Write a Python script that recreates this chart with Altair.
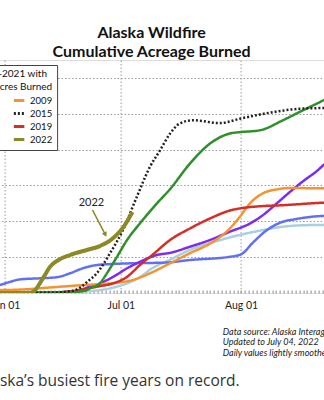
import altair as alt
import pandas as pd

# ---------------- data (days counted from June 1, values in million acres) -------------
YEARS = ["2002", "2004", "2005", "2013", "2009", "2015", "2019", "2022"]
COLORS = ["#6070f5", "#2f8f2a", "#7b2cf0", "#a9cfe1", "#f59331", "#222222", "#d42e26", "#8c8a27"]
DASHES = [[1, 0], [1, 0], [1, 0], [1, 0], [1, 0], [2, 2], [1, 0], [1, 0]]
DRAW_ORDER = ["2013", "2002", "2005", "2009", "2019", "2004", "2015", "2022"]

days_2013 = [-1.2, 10, 18, 22.8, 28, 31.6, 35.7, 37.5, 42.7, 47.8, 54.8, 60.7, 65.9, 71.8, 77, 82.3, 100]
acres_2013 = [0.0, 0.01, 0.04, 0.06, 0.15, 0.27, 0.5, 0.65, 0.93, 1.2, 1.45, 1.62, 1.74, 1.85, 1.89, 1.9, 1.92]

days_2002 = [-1.2, 1.4, 4, 9.1, 13.5, 16.9, 20.2, 23.8, 28, 33.1, 41.9, 47.8, 58.1, 61, 64, 67, 71, 75, 82, 100]
acres_2002 = [0.22, 0.31, 0.38, 0.41, 0.44, 0.55, 0.69, 0.78, 0.81, 0.83, 0.85, 0.92, 1.01, 1.08, 1.40, 1.70, 1.96, 2.06, 2.15, 2.2]

days_2005 = [-1.2, 12, 18.9, 22, 24.6, 28, 31.6, 34.9, 39.3, 42.7, 47.8, 53, 58.1, 63.3, 66.6, 70.2, 73.6, 77, 80.5, 82.3, 100]
acres_2005 = [0.0, 0.01, 0.06, 0.18, 0.27, 0.45, 0.69, 0.87, 1.06, 1.12, 1.29, 1.48, 1.71, 1.94, 2.17, 2.50, 2.82, 3.12, 3.40, 3.57, 4.3]

days_2009 = [-1.2, 5, 10, 15, 20, 25, 30, 33, 37.5, 42.7, 47.8, 53, 58.1, 60.7, 63.3, 66.6, 70.2, 73.6, 82.3, 100]
acres_2009 = [0.08, 0.10, 0.14, 0.18, 0.22, 0.25, 0.30, 0.36, 0.55, 0.83, 1.11, 1.38, 1.80, 2.13, 2.50, 2.78, 2.89, 2.93, 2.92, 2.92]

days_2019 = [-1.2, 10, 16.9, 18.9, 24, 28, 31.6, 34.9, 38.3, 42.7, 47.8, 53, 58.1, 60.7, 65.9, 71.8, 82.3, 100]
acres_2019 = [0.0, 0.01, 0.04, 0.08, 0.18, 0.27, 0.45, 0.78, 1.08, 1.48, 1.80, 2.08, 2.30, 2.36, 2.42, 2.45, 2.52, 2.56]

days_2004 = [-1.2, 15, 19.5, 21.2, 22, 24.6, 26.4, 29, 31.6, 34.9, 39.3, 42.7, 47.8, 53, 58.1, 61, 65.9, 71.8, 77, 82.3, 100]
acres_2004 = [0.0, 0.01, 0.04, 0.08, 0.13, 0.27, 0.55, 1.01, 1.48, 1.94, 2.50, 2.90, 3.61, 4.17, 4.45, 4.49, 4.54, 4.82, 5.10, 5.38, 6.6]

days_2015 = [-1.2, 12, 17, 19.5, 21.2, 23.8, 27.2, 30.5, 34.1, 37.5, 40.1, 42.7, 45.2, 48.6, 55.5, 61, 68.4, 76.2, 82.3, 100]
acres_2015 = [0.0, 0.01, 0.05, 0.15, 0.3, 0.55, 1.11, 1.75, 2.68, 3.52, 3.98, 4.45, 4.73, 4.82, 4.74, 4.87, 5.03, 5.14, 5.16, 5.17]

days_2022 = [-1.2, 3, 6.6, 7.9, 9.1, 10.4, 11.7, 13.9, 16.9, 21.2, 24.6, 27.2, 28.9, 30.6, 33.0]
acres_2022 = [0.0, 0.0, 0.01, 0.08, 0.27, 0.5, 0.73, 0.92, 1.06, 1.2, 1.31, 1.46, 1.62, 1.83, 2.26]

SERIES = {
    "2013": (days_2013, acres_2013), "2002": (days_2002, acres_2002),
    "2005": (days_2005, acres_2005), "2009": (days_2009, acres_2009),
    "2019": (days_2019, acres_2019), "2004": (days_2004, acres_2004),
    "2015": (days_2015, acres_2015), "2022": (days_2022, acres_2022),
}

# annotation arrow (start / end) and its label
arrow_days = [22.7, 26.0]
arrow_acres = [2.31, 1.63]
label_day = [22.4]
label_acres = [2.51]
label_text = ["2022"]

TITLE = ["Alaska Wildfire", "Cumulative Acreage Burned"]
LEGEND_TITLE = ["Years 2001-2021 with", "> 1 Million Acres Burned"]
NOTES = ["Data source: Alaska Interagency Coordination Center",
         "Updated to July 04, 2022",
         "Daily values lightly smoothed"]
CAPTION = "Alaska\u2019s busiest fire years on record."

BASE = pd.Timestamp("2022-06-01")


def to_date(d):
    return BASE + pd.Timedelta(days=d)


rows = []
for yr in DRAW_ORDER:
    ds, vs = SERIES[yr]
    for d, v in zip(ds, vs):
        rows.append({"year": yr, "date": to_date(d), "acres": v})
df = pd.DataFrame(rows)

arrow_df = pd.DataFrame({
    "d1": [to_date(arrow_days[0])], "v1": [arrow_acres[0]],
    "d2": [to_date(arrow_days[1])], "v2": [arrow_acres[1]],
})
label_df = pd.DataFrame({"date": [to_date(d) for d in label_day], "acres": label_acres, "t": label_text})

OLIVE = COLORS[YEARS.index("2022")]
FONT = "Lato"

xscale = alt.Scale(domain=[alt.DateTime(year=2022, month=5, date=15),
                           alt.DateTime(year=2022, month=9, date=15)], nice=False)
yscale = alt.Scale(domain=[0, 6.5], nice=False, zero=True)

xaxis = alt.Axis(
    title=None,
    tickCount={"interval": "day", "step": 1},
    labelExpr="date(datum.value) == 1 ? timeFormat(datum.value, '%b %d') : ''",
    labelOverlap=False, labelFlush=False,
    labelFont=FONT, labelFontSize=10.5, labelColor="#222", labelPadding=7,
    domain=False, ticks=True, tickSize=3, tickColor="#888", tickWidth=1,
    offset=-3,
    grid=True, gridColor="#999", gridDash=[1.5, 2], gridWidth=1,
    gridOpacity={"condition": {"test": "date(datum.value) == 1", "value": 1}, "value": 0},
)
yaxis = alt.Axis(title=None, labels=False, ticks=False, domain=False,
                 values=[1, 2, 3, 4, 5, 6], grid=True, gridColor="#999",
                 gridDash=[1.5, 2], gridWidth=1)

legend = alt.Legend(
    title=LEGEND_TITLE, orient="none", legendX=0.5, legendY=5, columns=2,
    titleFont=FONT, titleFontSize=10, titleFontWeight="normal", titleColor="#111",
    titleAnchor="middle", titleAlign="center", titleLineHeight=12.7, titlePadding=1.8,
    labelFont=FONT, labelFontSize=9.5, labelColor="#111", labelOffset=4,
    symbolType="stroke", symbolSize=110, symbolStrokeWidth=3,
    rowPadding=0, columnPadding=23, padding=4,
    fillColor="white", strokeColor="#444", cornerRadius=0,
)

base = alt.Chart(df)

lines = base.transform_filter(alt.datum.year != "2022").mark_line(
    clip=True, strokeWidth=2.5, interpolate="monotone"
).encode(
    x=alt.X("date:T", scale=xscale, axis=xaxis),
    y=alt.Y("acres:Q", scale=yscale, axis=yaxis),
    color=alt.Color("year:N", scale=alt.Scale(domain=YEARS, range=COLORS), legend=legend),
    strokeDash=alt.StrokeDash("year:N", scale=alt.Scale(domain=YEARS, range=DASHES), legend=legend),
)

line22 = base.transform_filter(alt.datum.year == "2022").mark_line(
    clip=True, strokeWidth=4, interpolate="monotone", color=OLIVE
).encode(x="date:T", y="acres:Q")

arrow = alt.Chart(arrow_df).mark_rule(color=OLIVE, strokeWidth=1.5).encode(
    x="d1:T", y="v1:Q", x2="d2:T", y2="v2:Q")
head = alt.Chart(arrow_df).mark_point(
    shape="triangle-down", filled=True, color=OLIVE, size=30, angle=333, opacity=1
).encode(x="d2:T", y="v2:Q")
label = alt.Chart(label_df).mark_text(font=FONT, fontSize=11, color="#222").encode(
    x="date:T", y="acres:Q", text="t:N")

note_df = pd.DataFrame({"k": [0]})
notes = alt.Chart(note_df).mark_text(
    text=NOTES, align="left", baseline="top", font=FONT, fontSize=9,
    fontStyle="italic", color="#222", lineHeight=10.5
).encode(x=alt.value(284.2), y=alt.value(267.5))
caption = alt.Chart(note_df).mark_text(
    text=CAPTION, align="right", baseline="alphabetic", font="Open Sans",
    fontSize=15.5, color="#333"
).encode(x=alt.value(301), y=alt.value(325.5))

chart = alt.layer(lines, line22, arrow, head, label, notes, caption).properties(
    width=477, height=233,
    title=alt.TitleParams(text=TITLE, font=FONT, fontSize=16, fontWeight="bold",
                          color="#111", anchor="middle", dx=-25.5, dy=18.5, lineHeight=18.5,
                          baseline="bottom", offset=3),
    padding={"left": -61.4, "top": 60, "right": -91.6, "bottom": 107},
    autosize=alt.AutoSizeParams(type="none"),
).configure_view(stroke="#aaa", strokeWidth=1).configure(background="white")

chart.save("out.html", embed_options={"renderer": "svg", "actions": False})
